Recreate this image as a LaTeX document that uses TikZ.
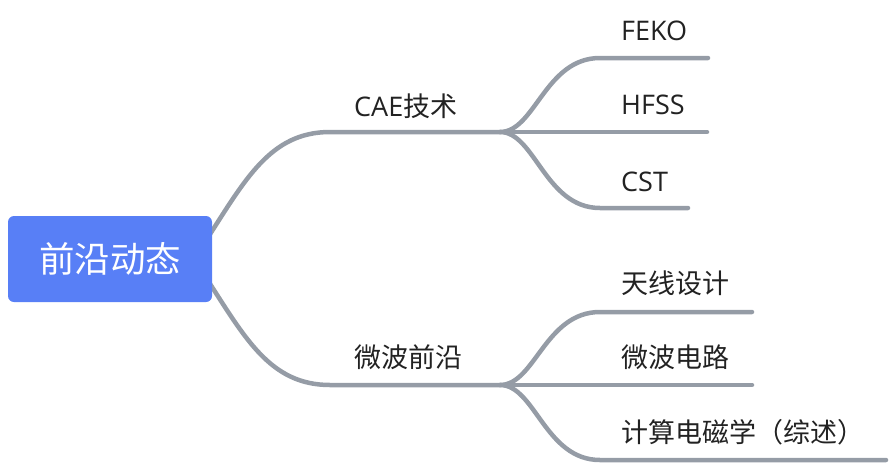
\documentclass[tikz,border=0pt]{standalone}
\usepackage{fontspec}
\setmainfont{Open Sans}
\newfontfamily\cjk{Noto Sans CJK SC}
\usetikzlibrary{backgrounds}
\definecolor{rootblue}{RGB}{88,127,246}
\definecolor{branchgray}{RGB}{149,156,166}
\definecolor{txt}{RGB}{34,34,34}
\begin{document}
\begin{tikzpicture}[x=1pt,y=-1pt,
  conn/.style={draw=branchgray,line width=4.5pt,line cap=round},
  lbl/.style={anchor=west,inner sep=0pt,text=txt,font=\fontsize{27}{31}\selectfont},
  rootbox/.style={fill=rootblue,rounded corners=6pt,minimum width=204pt,minimum height=86pt,inner sep=0pt,text=white,font=\cjk\fontsize{35.5}{40}\selectfont}]
\useasboundingbox (0,0) rectangle (896,464);
\node[rootbox] (root) at (110,259) {前沿动态};
% labels
\node[lbl] (cae) at (354,106) {CAE{\cjk 技术}};
\node[lbl] (wb) at (354,357) {\cjk 微波前沿};
\node[lbl] (feko) at (621,31) {FEKO};
\node[lbl] (hfss) at (621,105) {HFSS};
\node[lbl] (cst) at (621,182) {CST};
\node[lbl] (tx) at (621,283) {\cjk 天线设计};
\node[lbl] (wbdl) at (621,357) {\cjk 微波电路};
\node[lbl] (js) at (621,432) {\cjk 计算电磁学（综述）};
% coordinates
\coordinate (r1) at (205,242);
\coordinate (r2) at (205,276);
\coordinate (c1) at (330,132);
\coordinate (s1) at (500,132);
\coordinate (c2) at (330,385);
\coordinate (s2) at (500,385);
\coordinate (fa) at (600,58);  \coordinate (fb) at (708,58);
\coordinate (hb) at (707,132);
\coordinate (ca) at (600,208); \coordinate (cb) at (688,208);
\coordinate (ta) at (600,312); \coordinate (tb) at (752,312);
\coordinate (wbb) at (752,385);
\coordinate (ja) at (600,460); \coordinate (jb) at (886,460);
\begin{scope}[on background layer]
\draw[conn] (r1) .. controls (245,180) and (270,132) .. (c1) -- (s1);
\draw[conn] (r2) .. controls (245,338) and (270,385) .. (c2) -- (s2);
\draw[conn] (s1) .. controls (535,132) and (545,58) .. (fa) -- (fb);
\draw[conn] (s1) -- (hb);
\draw[conn] (s1) .. controls (535,132) and (545,208) .. (ca) -- (cb);
\draw[conn] (s2) .. controls (535,385) and (545,312) .. (ta) -- (tb);
\draw[conn] (s2) -- (wbb);
\draw[conn] (s2) .. controls (535,385) and (545,460) .. (ja) -- (jb);
\end{scope}
\end{tikzpicture}
\end{document}
